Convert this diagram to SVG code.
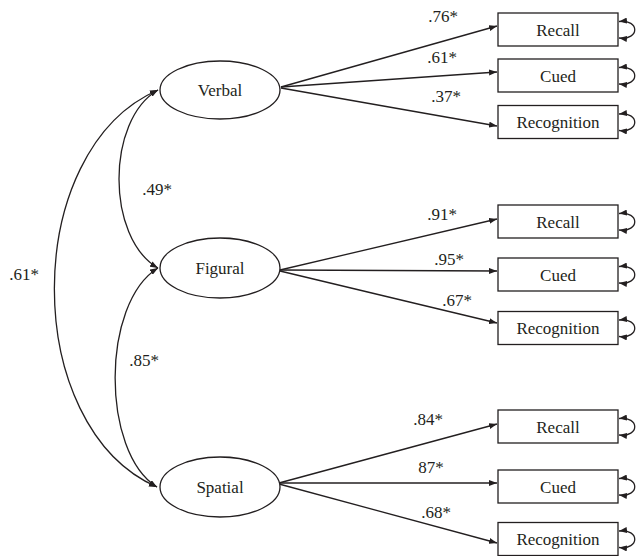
<svg xmlns="http://www.w3.org/2000/svg" width="636" height="556" viewBox="0 0 636 556">
<style>
.s{fill:none;stroke:#231f20;stroke-width:1.3}
.n{fill:#fff;stroke:#231f20;stroke-width:1.3}
.t{font-family:'Liberation Serif','DejaVu Serif','Times New Roman',serif;font-size:17px;fill:#231f20;text-anchor:middle}
</style>
<defs>
<marker id="ah" markerUnits="userSpaceOnUse" markerWidth="8" markerHeight="6" refX="8" refY="3" orient="auto-start-reverse">
<path d="M0,0 L8,3 L0,6 z" fill="#231f20"/>
</marker>
</defs>
<rect width="636" height="556" fill="#fff"/>
<g id="connectors">
<path class="s" marker-end="url(#ah)" d="M281,87 L497,26"/>
<path class="s" marker-end="url(#ah)" d="M281,87 L497,72"/>
<path class="s" marker-end="url(#ah)" d="M281,88 L497,126"/>
<path class="s" marker-end="url(#ah)" d="M280,270 L497,219"/>
<path class="s" marker-end="url(#ah)" d="M280,270 L497,271"/>
<path class="s" marker-end="url(#ah)" d="M280,271 L497,323"/>
<path class="s" marker-end="url(#ah)" d="M279,483 L497,424"/>
<path class="s" marker-end="url(#ah)" d="M279,483 L497,483"/>
<path class="s" marker-end="url(#ah)" d="M279,484 L497,543"/>
<path class="s" marker-start="url(#ah)" marker-end="url(#ah)" d="M158,90 C106,120 106,238 158,268"/>
<path class="s" marker-start="url(#ah)" marker-end="url(#ah)" d="M158,268 C101,303 101,452 157,487"/>
<path class="s" marker-start="url(#ah)" marker-end="url(#ah)" d="M158,90 C20,150 20,427 157,487"/>
<path class="s" marker-start="url(#ah)" marker-end="url(#ah)" d="M619,21.5 C640,19 640,40.5 619,38"/>
<path class="s" marker-start="url(#ah)" marker-end="url(#ah)" d="M619,67.5 C640,65 640,86.5 619,84"/>
<path class="s" marker-start="url(#ah)" marker-end="url(#ah)" d="M619,114 C640,111.5 640,133 619,130.5"/>
<path class="s" marker-start="url(#ah)" marker-end="url(#ah)" d="M619,213.5 C640,211 640,232.5 619,230"/>
<path class="s" marker-start="url(#ah)" marker-end="url(#ah)" d="M619,266.5 C640,264 640,285.5 619,283"/>
<path class="s" marker-start="url(#ah)" marker-end="url(#ah)" d="M619,320 C640,317.5 640,339 619,336.5"/>
<path class="s" marker-start="url(#ah)" marker-end="url(#ah)" d="M619,418.5 C640,416 640,437.5 619,435"/>
<path class="s" marker-start="url(#ah)" marker-end="url(#ah)" d="M619,478.5 C640,476 640,497.5 619,495"/>
<path class="s" marker-start="url(#ah)" marker-end="url(#ah)" d="M619,531 C640,528.5 640,550 619,547.5"/>
<text class="t" font-family="Liberation Serif, serif" x="443" y="22">.76*</text>
<text class="t" font-family="Liberation Serif, serif" x="442" y="63">.61*</text>
<text class="t" font-family="Liberation Serif, serif" x="446" y="102">.37*</text>
<text class="t" font-family="Liberation Serif, serif" x="442" y="220">.91*</text>
<text class="t" font-family="Liberation Serif, serif" x="449" y="265">.95*</text>
<text class="t" font-family="Liberation Serif, serif" x="457" y="306">.67*</text>
<text class="t" font-family="Liberation Serif, serif" x="428" y="425">.84*</text>
<text class="t" font-family="Liberation Serif, serif" x="431" y="473">87*</text>
<text class="t" font-family="Liberation Serif, serif" x="436" y="518">.68*</text>
<text class="t" font-family="Liberation Serif, serif" x="157" y="195">.49*</text>
<text class="t" font-family="Liberation Serif, serif" x="144" y="366">.85*</text>
<text class="t" font-family="Liberation Serif, serif" x="24" y="280">.61*</text>
</g>
<g id="verbal"><ellipse class="n" cx="220" cy="90" rx="60" ry="29"/><text class="t" font-family="Liberation Serif, serif" x="220" y="96">Verbal</text></g>
<g id="figural"><ellipse class="n" cx="220" cy="268" rx="60" ry="30"/><text class="t" font-family="Liberation Serif, serif" x="220" y="274">Figural</text></g>
<g id="spatial"><ellipse class="n" cx="220" cy="487" rx="60" ry="30"/><text class="t" font-family="Liberation Serif, serif" x="220" y="493">Spatial</text></g>
<g id="v-recall"><rect class="n" x="498" y="13" width="120" height="33"/><text class="t" font-family="Liberation Serif, serif" x="558" y="35.5">Recall</text></g>
<g id="v-cued"><rect class="n" x="498" y="59" width="120" height="33"/><text class="t" font-family="Liberation Serif, serif" x="558" y="81.5">Cued</text></g>
<g id="v-recognition"><rect class="n" x="498" y="105.5" width="120" height="33"/><text class="t" font-family="Liberation Serif, serif" x="558" y="128">Recognition</text></g>
<g id="f-recall"><rect class="n" x="498" y="205" width="120" height="33"/><text class="t" font-family="Liberation Serif, serif" x="558" y="227.5">Recall</text></g>
<g id="f-cued"><rect class="n" x="498" y="258" width="120" height="33"/><text class="t" font-family="Liberation Serif, serif" x="558" y="280.5">Cued</text></g>
<g id="f-recognition"><rect class="n" x="498" y="311.5" width="120" height="33"/><text class="t" font-family="Liberation Serif, serif" x="558" y="334">Recognition</text></g>
<g id="s-recall"><rect class="n" x="498" y="410" width="120" height="33"/><text class="t" font-family="Liberation Serif, serif" x="558" y="432.5">Recall</text></g>
<g id="s-cued"><rect class="n" x="498" y="470" width="120" height="33"/><text class="t" font-family="Liberation Serif, serif" x="558" y="492.5">Cued</text></g>
<g id="s-recognition"><rect class="n" x="498" y="522.5" width="120" height="33"/><text class="t" font-family="Liberation Serif, serif" x="558" y="545">Recognition</text></g>
</svg>
